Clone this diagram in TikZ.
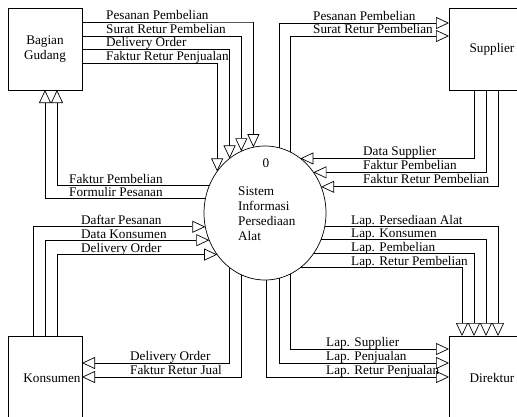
\documentclass[tikz,border=0pt]{standalone}
\usepackage{fontspec}
\setmainfont{Liberation Serif}
\usetikzlibrary{arrows.meta,shapes.geometric}
\tikzset{
  flow/.style={line width=0.7pt, -{Triangle[open,length=13pt,width=12pt]}},
  ent/.style={draw, line width=0.7pt, rectangle, inner sep=0pt, outer sep=0pt, align=center},
  lbl/.style={anchor=base west, inner sep=0pt},
}
\begin{document}
\begin{tikzpicture}[x=1pt,y=-1pt,font=\fontsize{13.2}{14.5}\selectfont]
\useasboundingbox (0,0) rectangle (517,416);
\clip (0,0) rectangle (517,416);
% entities and process
\node[ent,minimum width=74,minimum height=82,name=gud] at (45,49){Bagian\\Gudang};
\node[ent,minimum width=86,minimum height=82,name=sup] at (492,49){Supplier};
\node[ent,minimum width=74,minimum height=84,name=kon] at (45,378){};
\node[name=konl] at (52,378){Konsumen};
\node[ent,minimum width=86,minimum height=84,name=dir] at (492,378){Direktur};
\node[draw,line width=0.7pt,ellipse,minimum width=122,minimum height=134,inner sep=0pt,outer sep=0pt,name=proc] at (265,213){};
\node[name=pnum] at (266,163){0};
\node[align=left,anchor=west,inner sep=0pt,font=\fontsize{13.2}{15}\selectfont,name=pname] at (238,214){Sistem\\Informasi\\Persediaan\\Alat};
% Bagian Gudang
\draw[flow] (gud.east |- 0,22)--(253,22)-|(proc.100.4);
\draw[flow] (gud.east |- 0,36)-|(proc.111.3);
\draw[flow] (gud.east |- 0,49)-|(proc.123.6);
\draw[flow] (gud.east |- 0,63)-|(proc.139.2);
\node[lbl,name=g1] at (106,19.5){Pesanan Pembelian};
\node[lbl,name=g2] at (106,33.5){Surat Retur Pembelian};
\node[lbl,name=g3] at (106,46.5){Delivery Order};
\node[lbl,name=g4] at (106,60.5){Faktur Retur Penjualan};
\draw[flow] (proc.154.2)-|(gud.south -| 57,0);
\draw[flow] (proc.166.8)-|(gud.south -| 45,0);
\node[lbl,name=g5] at (69,183.5){Faktur Pembelian};
\node[lbl,name=g6] at (69,196.5){Formulir Pesanan};
% Konsumen
\draw[flow] (kon.north -| 33,0)|-(proc.193.2);
\draw[flow] (kon.north -| 45,0)|-(proc.206.8);
\draw[flow] (kon.north -| 57,0)|-(proc.221.5);
\node[lbl,name=k1] at (81,224.5){Daftar Pesanan};
\node[lbl,name=k2] at (81,238.5){Data Konsumen};
\node[lbl,name=k3] at (81,252.5){Delivery Order};
\draw[flow] (proc.-123.6)|-(kon.east |- 0,363);
\draw[flow] (proc.-111.3)|-(kon.east |- 0,377);
\node[lbl,name=k4] at (130,360.5){Delivery Order};
\node[lbl,name=k5] at (130,374.5){Faktur Retur Jual};
% Supplier
\draw[flow] (proc.78.8)|-(sup.west |- 0,23);
\draw[flow] (proc.67.75)|-(sup.west |- 0,36);
\node[lbl,name=s1] at (313,20.5){Pesanan Pembelian};
\node[lbl,name=s2] at (313,33.5){Surat Retur Pembelian};
\draw[flow] (sup.south -| 474,0)|-(proc.57.7);
\draw[flow] (sup.south -| 486,0)|-(proc.40.4);
\draw[flow] (sup.south -| 498,0)|-(proc.25.8);
\node[lbl,name=s3] at (363,155.5){Data Supplier};
\node[lbl,name=s4] at (363,169.5){Faktur Pembelian};
\node[lbl,name=s5] at (363,183.5){Faktur Retur Pembelian};
% Direktur
\draw[flow] (proc.-13.2)-|(dir.north -| 498,0);
\draw[flow] (proc.-25.8)-|(dir.north -| 486,0);
\draw[flow] (proc.-40.4)-|(dir.north -| 474,0);
\draw[flow] (proc.-57.7)-|(dir.north -| 462,0);
\node[lbl,name=d1] at (351,224.5){Lap. Persediaan Alat};
\node[lbl,name=d2] at (351,237.5){Lap. Konsumen};
\node[lbl,name=d3] at (351,251.5){Lap. Pembelian};
\node[lbl,name=d4] at (351,265.5){Lap. Retur Pembelian};
\draw[flow] (proc.-67.75)|-(dir.west |- 0,349);
\draw[flow] (proc.-78.8)|-(dir.west |- 0,363);
\draw[flow] (proc.-89.1)|-(dir.west |- 0,377);
\node[lbl,name=d5] at (326,346.5){Lap. Supplier};
\node[lbl,name=d6] at (326,360.5){Lap. Penjualan};
\node[lbl,name=d7] at (326,374.5){Lap. Retur Penjualan};
\end{tikzpicture}
\end{document}
